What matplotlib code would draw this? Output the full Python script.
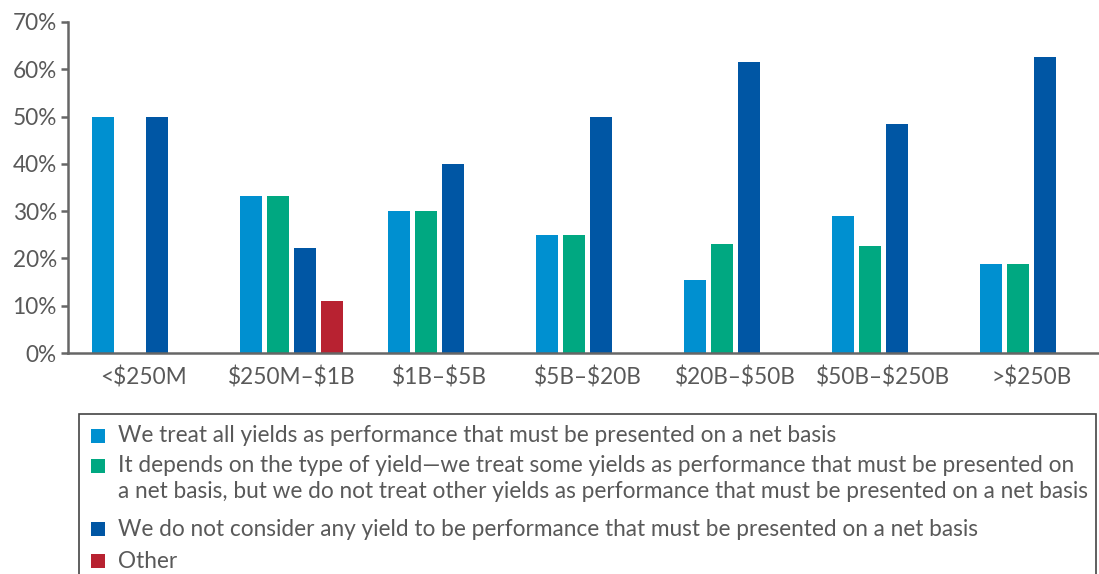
import numpy as np
import matplotlib.pyplot as plt
from matplotlib.patches import Rectangle

plt.rcParams['font.family'] = ['Lato', 'DejaVu Sans']
plt.rcParams['text.parse_math'] = False

categories = ['<$250M', '$250M–$1B', '$1B–$5B', '$5B–$20B',
              '$20B–$50B', '$50B–$250B', '>$250B']
all_net = [50.0, 33.3, 30.0, 25.0, 15.4, 29.0, 18.8]
depends = [0.0, 33.3, 30.0, 25.0, 23.1, 22.6, 18.8]
none_net = [50.0, 22.2, 40.0, 50.0, 61.5, 48.4, 62.5]
other = [0.0, 11.1, 0.0, 0.0, 0.0, 0.0, 0.0]

labels = [
    'We treat all yields as performance that must be presented on a net basis',
    'It depends on the type of yield—we treat some yields as performance that must be presented on\n'
    'a net basis, but we do not treat other yields as performance that must be presented on a net basis',
    'We do not consider any yield to be performance that must be presented on a net basis',
    'Other',
]
colors = ['#0090d0', '#00a881', '#0056a4', '#b82231']
series = [all_net, depends, none_net, other]
text_color = '#595959'
axis_color = '#666666'

fig = plt.figure(figsize=(10.99, 5.74), dpi=100)
ax = fig.add_axes([68 / 1099, 221 / 574, 1030 / 1099, 331 / 574])

ind = np.arange(len(categories))
width = 0.149
step = 0.182
for i, (vals, c) in enumerate(zip(series, colors)):
    ax.bar(ind + (i - 1.5) * step, vals, width, color=c, linewidth=0)

ax.set_xlim(-0.51, 6.45)
ax.set_ylim(0, 70)
ax.set_yticks(range(0, 71, 10))
ax.set_yticklabels(['%d%%' % v for v in range(0, 71, 10)])
ax.set_xticks(ind)
ax.set_xticklabels(categories)

for s in ['top', 'right']:
    ax.spines[s].set_visible(False)
for s in ['left', 'bottom']:
    ax.spines[s].set_color(axis_color)
    ax.spines[s].set_linewidth(1.8)
ax.tick_params(axis='y', length=5, width=1.8, color=axis_color,
               labelsize=16.3, labelcolor=text_color, pad=3)
ax.tick_params(axis='x', length=0, labelsize=16.3, labelcolor=text_color, pad=10)

# legend box below the chart
fig.patches.append(Rectangle((79 / 1099, -0.02), (1096 - 79) / 1099, (574 - 414) / 574 + 0.02,
                             transform=fig.transFigure, fill=False,
                             edgecolor='#444444', linewidth=1.2))
row_y = [436, 466, 529, 561]
for lab, c, y in zip(labels, colors, row_y):
    fig.patches.append(Rectangle((91 / 1099, 1 - (y + 7) / 574), 14 / 1099, 14 / 574,
                                 transform=fig.transFigure, color=c, linewidth=0))
    for j, line in enumerate(lab.split('\n')):
        fig.text(118 / 1099, 1 - (y + 26 * j) / 574, line, fontsize=16.3,
                 color=text_color, va='center', ha='left')

fig.savefig('out.png', dpi=100)
